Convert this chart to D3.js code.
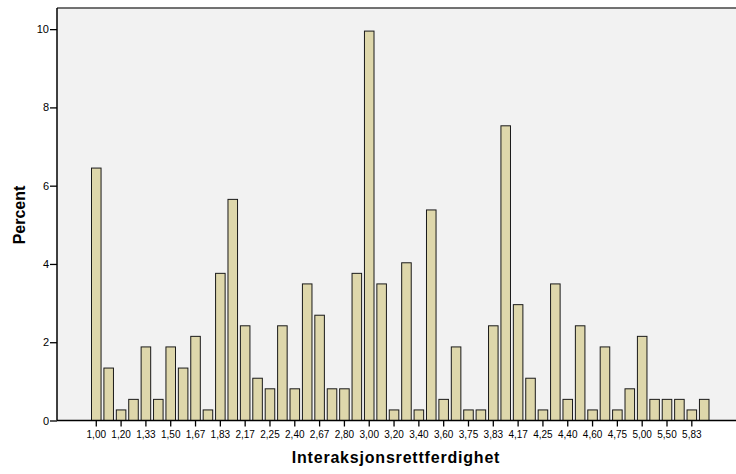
<!DOCTYPE html>
<html>
<head>
<meta charset="utf-8">
<script src="https://cdn.jsdelivr.net/npm/d3@7"></script>
<style>
  body { margin: 0; background: #fff; }
  svg { display: block; font-family: "Liberation Sans", Arial, sans-serif; }
</style>
</head>
<body>
<div id="chart"></div>
<script>
// DATA
const categories = ["1,00","1,17","1,20","1,25","1,33","1,40","1,50","1,60","1,67","1,75",
  "1,83","2,00","2,17","2,20","2,25","2,33","2,40","2,50","2,67","2,75",
  "2,80","2,83","3,00","3,17","3,20","3,33","3,40","3,50","3,60","3,67",
  "3,75","3,80","3,83","4,00","4,17","4,20","4,25","4,33","4,40","4,50",
  "4,60","4,67","4,75","4,83","5,00","5,17","5,50","5,67","5,83","6,00"];
const percent = [6.45,1.34,0.27,0.54,1.88,0.54,1.88,1.34,2.15,0.27,
  3.76,5.65,2.42,1.08,0.81,2.42,0.81,3.49,2.69,0.81,
  0.81,3.76,9.95,3.49,0.27,4.03,0.27,5.38,0.54,1.88,
  0.27,0.27,2.42,7.53,2.96,1.08,0.27,3.49,0.54,2.42,
  0.27,1.88,0.27,0.81,2.15,0.54,0.54,0.54,0.27,0.54];
const yTicks = [0, 2, 4, 6, 8, 10];
// only every other category gets a label
const tickLabels = categories.filter((d, i) => i % 2 === 0);

const width = 736, height = 474;
const plot = {left: 57, right: 736, top: 8, bottom: 420.5};

const svg = d3.select("#chart").append("svg")
  .attr("width", width)
  .attr("height", height);

// SCALES
const x = d3.scaleBand()
  .domain(categories)
  .range([91.5, 709])
  .paddingInner(0.23)
  .paddingOuter(0);

const y = d3.scaleLinear()
  .domain([0, 10.54])
  .range([plot.bottom, plot.top]);

// plot background
svg.append("rect")
  .attr("x", plot.left)
  .attr("y", plot.top)
  .attr("width", plot.right - plot.left)
  .attr("height", plot.bottom - plot.top)
  .attr("fill", "#f2f2f2");

svg.append("line")
  .attr("x1", plot.left).attr("x2", plot.right)
  .attr("y1", plot.top).attr("y2", plot.top)
  .attr("stroke", "#444")
  .attr("stroke-width", 1.5);

// BARS
svg.append("g")
  .selectAll("rect")
  .data(percent)
  .join("rect")
    .attr("x", (d, i) => x(categories[i]))
    .attr("y", d => y(d))
    .attr("width", x.bandwidth())
    .attr("height", d => y(0) - y(d))
    .attr("fill", "#ded7ab")
    .attr("stroke", "#1a1a1a")
    .attr("stroke-width", 1);

// AXES
const xAxis = svg.append("g")
  .attr("transform", `translate(0,${plot.bottom})`)
  .call(d3.axisBottom(x).tickValues(tickLabels).tickSize(6).tickSizeOuter(0));
xAxis.select(".domain").remove();
xAxis.selectAll(".tick line").attr("stroke", "#000").attr("stroke-width", 1.3);
xAxis.selectAll(".tick text")
  .attr("y", 10)
  .attr("font-size", 10)
  .attr("font-family", "Liberation Sans, Arial, sans-serif")
  .attr("fill", "#000");

svg.append("line")
  .attr("x1", plot.left).attr("x2", plot.right)
  .attr("y1", plot.bottom).attr("y2", plot.bottom)
  .attr("stroke", "#000")
  .attr("stroke-width", 1.5);

const yAxis = svg.append("g")
  .attr("transform", `translate(${plot.left},0)`)
  .call(d3.axisLeft(y).tickValues(yTicks).tickFormat(d3.format("d")).tickSize(7).tickSizeOuter(0));
yAxis.select(".domain").remove();
yAxis.selectAll(".tick line").attr("stroke", "#000").attr("stroke-width", 1.3);
yAxis.selectAll(".tick text")
  .attr("x", -8)
  .attr("font-size", 11)
  .attr("font-family", "Liberation Sans, Arial, sans-serif")
  .attr("fill", "#000");

svg.append("line")
  .attr("x1", plot.left).attr("x2", plot.left)
  .attr("y1", plot.top).attr("y2", plot.bottom)
  .attr("stroke", "#000")
  .attr("stroke-width", 1.5);

// TITLES
svg.append("text")
  .attr("x", 396)
  .attr("y", 463)
  .attr("text-anchor", "middle")
  .attr("font-size", 16)
  .attr("font-weight", "bold")
  .attr("letter-spacing", 0.8)
  .text("Interaksjonsrettferdighet");

svg.append("text")
  .attr("transform", "translate(25,215) rotate(-90)")
  .attr("text-anchor", "middle")
  .attr("font-size", 16)
  .attr("font-weight", "bold")
  .text("Percent");
</script>
</body>
</html>
